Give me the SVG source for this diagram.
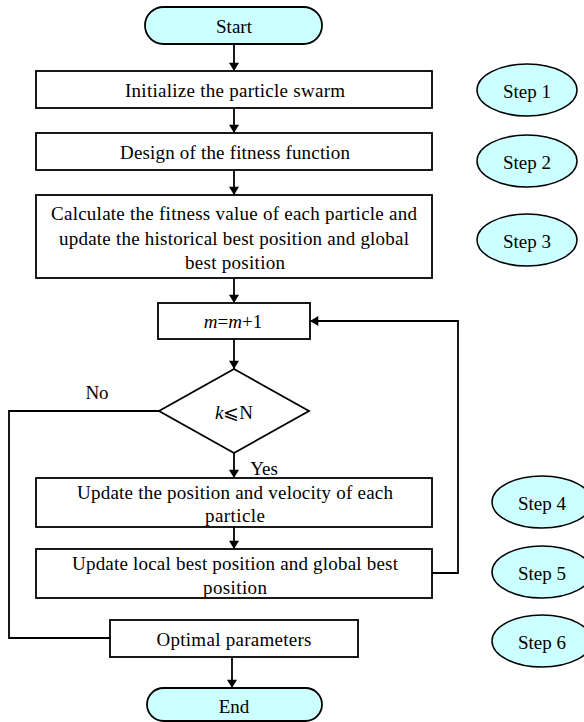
<svg xmlns="http://www.w3.org/2000/svg" width="584" height="722" viewBox="0 0 584 722">
<defs>
<marker id="arr" viewBox="0 0 10 12" refX="10" refY="6" markerWidth="12" markerHeight="10" markerUnits="userSpaceOnUse" orient="auto">
<path d="M0,0 L10,6 L0,12 Z" fill="#000"/>
</marker>
<style>
.box{fill:#fff;stroke:#000;stroke-width:1.8}
.term{fill:#ccffff;stroke:#000;stroke-width:1.8}
.step{fill:#ccffff;stroke:#000;stroke-width:1.5}
.t{font-family:"Liberation Serif","Times New Roman",serif;font-size:19px;fill:#000;text-anchor:middle;dominant-baseline:central}
.c{fill:none;stroke:#000;stroke-width:1.8}
</style>
</defs>
<rect width="584" height="722" fill="#fff"/>
<g id="connectors">
<line class="c" x1="234" y1="44" x2="234" y2="71" marker-end="url(#arr)"/>
<line class="c" x1="234" y1="108" x2="234" y2="133" marker-end="url(#arr)"/>
<line class="c" x1="234" y1="170" x2="234" y2="195" marker-end="url(#arr)"/>
<line class="c" x1="234" y1="278" x2="234" y2="303" marker-end="url(#arr)"/>
<line class="c" x1="234" y1="339" x2="234" y2="369" marker-end="url(#arr)"/>
<line class="c" x1="234" y1="453" x2="234" y2="478" marker-end="url(#arr)"/>
<line class="c" x1="234" y1="527" x2="234" y2="549" marker-end="url(#arr)"/>
<polyline class="c" points="432,573 458,573 458,321 310,321" marker-end="url(#arr)"/>
<polyline class="c" points="159,411 9,411 9,638 110,638"/>
<line class="c" x1="232" y1="657" x2="232" y2="688" marker-end="url(#arr)"/>
<text class="t" x="97" y="392">No</text>
<text class="t" x="264" y="468">Yes</text>
</g>
<g id="start">
<rect class="term" x="145" y="7" width="177" height="37" rx="18.5"/>
<text class="t" x="234" y="26">Start</text>
</g>
<g id="init">
<rect class="box" x="36" y="71" width="396" height="37"/>
<text class="t" x="235" y="90" textLength="220" lengthAdjust="spacing">Initialize the particle swarm</text>
</g>
<g id="fitness">
<rect class="box" x="36" y="133" width="396" height="37"/>
<text class="t" x="235" y="152" textLength="230" lengthAdjust="spacing">Design of the fitness function</text>
</g>
<g id="calc">
<rect class="box" x="36" y="195" width="396" height="83"/>
<text class="t" x="234" y="213" textLength="366" lengthAdjust="spacing">Calculate the fitness value of each particle and</text>
<text class="t" x="234" y="238" textLength="350" lengthAdjust="spacing">update the historical best position and global</text>
<text class="t" x="235" y="262" textLength="100" lengthAdjust="spacing">best position</text>
</g>
<g id="iter">
<rect class="box" x="158" y="303" width="152" height="36"/>
<text class="t" x="233" y="321"><tspan font-style="italic">m</tspan>=<tspan font-style="italic">m</tspan>+1</text>
</g>
<g id="decision">
<polygon class="box" points="234,369 309,411 234,453 159,411"/>
<text class="t" x="234" y="412"><tspan font-style="italic">k</tspan>⩽N</text>
</g>
<g id="update1">
<rect class="box" x="36" y="478" width="396" height="49"/>
<text class="t" x="235" y="492" textLength="316" lengthAdjust="spacing">Update the position and velocity of each</text>
<text class="t" x="235" y="515" textLength="60" lengthAdjust="spacing">particle</text>
</g>
<g id="update2">
<rect class="box" x="36" y="549" width="396" height="49"/>
<text class="t" x="235" y="563" textLength="326" lengthAdjust="spacing">Update local best position and global best</text>
<text class="t" x="235" y="587" textLength="64" lengthAdjust="spacing">position</text>
</g>
<g id="optimal">
<rect class="box" x="110" y="620" width="248" height="37"/>
<text class="t" x="234" y="639" textLength="155" lengthAdjust="spacing">Optimal parameters</text>
</g>
<g id="end">
<rect class="term" x="147" y="688" width="175" height="33" rx="16.5"/>
<text class="t" x="234" y="706">End</text>
</g>
<g id="step1"><ellipse class="step" cx="527" cy="90" rx="50" ry="26"/><text class="t" x="527" y="91">Step 1</text></g>
<g id="step2"><ellipse class="step" cx="527" cy="161" rx="50" ry="26"/><text class="t" x="527" y="162">Step 2</text></g>
<g id="step3"><ellipse class="step" cx="527" cy="240" rx="50" ry="26"/><text class="t" x="527" y="241">Step 3</text></g>
<g id="step4"><ellipse class="step" cx="542" cy="502" rx="50" ry="26"/><text class="t" x="542" y="503">Step 4</text></g>
<g id="step5"><ellipse class="step" cx="542" cy="572" rx="50" ry="26"/><text class="t" x="542" y="573">Step 5</text></g>
<g id="step6"><ellipse class="step" cx="542" cy="641" rx="50" ry="26"/><text class="t" x="542" y="642">Step 6</text></g>
</svg>
